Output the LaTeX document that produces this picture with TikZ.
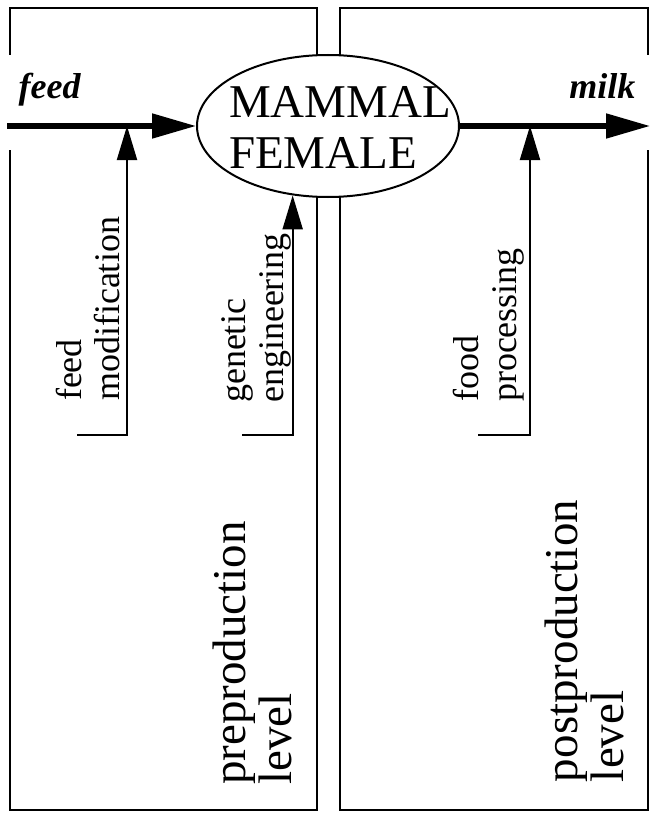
\documentclass[tikz,border=0pt]{standalone}
\usepackage{fontspec}
\setmainfont{Liberation Serif}
\usetikzlibrary{arrows.meta,shapes.geometric}

\begin{document}
\begin{tikzpicture}[x=0.5pt,y=-0.5pt,line width=1pt,
  flowarrow/.style={line width=2.5pt,-{Triangle[length=22pt,width=12pt]}},
  inarrow/.style={line width=1pt,-{Triangle[length=17pt,width=10pt]}},
  sidetext/.style={rotate=90,align=left,inner sep=0pt,font=\fontsize{18}{19}\selectfont},
  leveltext/.style={rotate=90,align=left,inner sep=0pt,font=\fontsize{23.5}{23}\selectfont}]

\useasboundingbox (0,0) rectangle (665,813);

\draw (10,55) -- (10,8) -- (317,8) -- (317,810) -- (10,810) -- (10,150);
\draw (648,55) -- (648,8) -- (340,8) -- (340,810) -- (648,810) -- (648,150);

\node [draw, ellipse, fill=white, minimum width=131pt, minimum height=71pt, inner sep=0pt] (mammal) at (328,126) {};
\node [align=left, font=\fontsize{23.5}{25.5}\selectfont] (mammaltext) at (340,127) {MAMMAL\\FEMALE};

\node [anchor=base west, font=\bfseries\itshape\fontsize{18}{18}\selectfont] (feedlabel) at (11,98) {feed};
\node [anchor=base east, font=\bfseries\itshape\fontsize{18}{18}\selectfont] (milklabel) at (643,98) {milk};

\coordinate (feedin) at (7,126);
\coordinate (milkout) at (650,126);
\draw [flowarrow] (feedin) -- (mammal.west);
\draw [flowarrow] (mammal.east) -- (milkout);

\coordinate (fmfoot) at (77,435);
\coordinate (fmcorner) at (127,435);
\draw [inarrow] (fmfoot) -- (fmcorner) -- (fmcorner |- feedin);
\node [sidetext] (feedmod) at (88,309) {feed\\modification};

\coordinate (gefoot) at (242,435);
\draw [inarrow] (gefoot) -- (gefoot -| mammal.243) -- (mammal.243);
\node [sidetext] (geneng) at (256,318) {genetic\\engineering};

\coordinate (fpfoot) at (478,435);
\coordinate (fpcorner) at (530,435);
\draw [inarrow] (fpfoot) -- (fpcorner) -- (fpcorner |- milkout);
\node [sidetext] (foodproc) at (489,325) {food\\processing};

\node [leveltext] (prelevel) at (252,653) {preproduction\\level};
\node [leveltext] (postlevel) at (584,641) {postproduction\\level};

\end{tikzpicture}
\end{document}
